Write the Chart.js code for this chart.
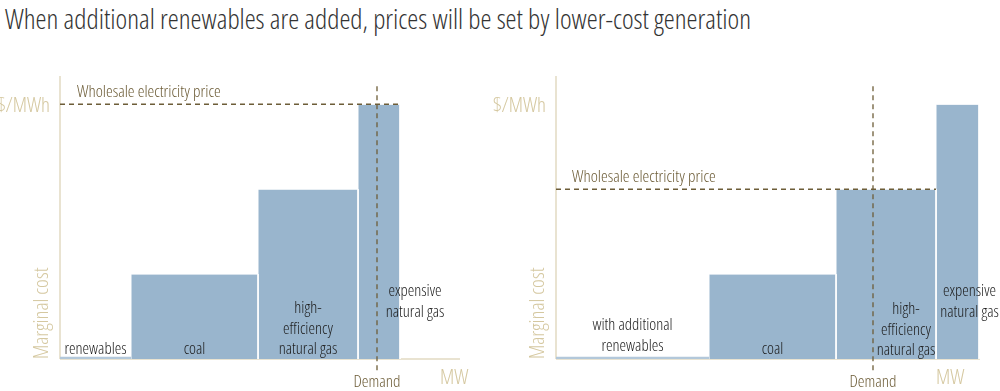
<!DOCTYPE html>
<html>
<head>
<meta charset="utf-8">
<script src="https://cdn.jsdelivr.net/npm/chart.js@4.4.1/dist/chart.umd.min.js"></script>
<style>
  body { margin: 0; background: #fff; width: 1000px; height: 391px; overflow: hidden; position: relative; }
  #titulo {
    position: absolute; left: 5px; top: 0px;
    font-family: "Open Sans", sans-serif; font-weight: 300; font-stretch: condensed;
    font-size: 27.8px; line-height: 36px; color: #333; white-space: nowrap;
  }
  .panel { position: absolute; top: 40px; height: 351px; }
</style>
</head>
<body>
<div id="titulo">When additional renewables are added, prices will be set by lower-cost generation</div>
<div class="panel" style="left:0;width:490px"><canvas id="izq"></canvas></div>
<div class="panel" style="left:490px;width:510px"><canvas id="der"></canvas></div>
<script>
// Datos (MW acumulados en el eje x, coste marginal en el eje y)
const fuentes = ['renewables', 'coal', 'high-efficiency natural gas', 'expensive natural gas'];
const etiquetasIzq = [['renewables'], ['coal'], ['high-', 'efficiency', 'natural gas'], ['expensive', 'natural gas']];
const etiquetasDer = [['with additional', 'renewables'], ['coal'], ['high-', 'efficiency', 'natural gas'], ['expensive', 'natural gas']];
const capacidadIzq = [71, 127, 100, 42];
const capacidadDer = [153, 127, 100, 43];
const costeMarginal = [0.8, 30, 60, 90];
const demanda = 317;
const precioIzq = 90;
const precioDer = 60;

const AZUL = '#99b5cd';
const AZUL_CLARO = '#b3c8da';
const BEIGE = '#e9e3d1';
const BEIGE_TEXTO = '#d5c8a0';
const OLIVA = '#6d5d38';

function fuente(size, weight) {
  return (weight || 300) + ' condensed ' + size + 'px "Open Sans"';
}

function construirDatasets(capacidad, xMax, precio) {
  var datasets = [];
  // ejes (detras de todo)
  datasets.push({ data: [{x: 0, y: 0}, {x: xMax, y: 0}], borderColor: BEIGE, borderWidth: 2, order: 10 });
  datasets.push({ data: [{x: 0, y: 0}, {x: 0, y: 100}], borderColor: BEIGE, borderWidth: 2, order: 10 });
  var inicio = 0;
  for (var i = 0; i < capacidad.length; i++) {
    var fin = inicio + capacidad[i];
    datasets.push({
      label: fuentes[i],
      data: [{x: inicio, y: 0}, {x: inicio, y: costeMarginal[i]}, {x: fin, y: costeMarginal[i]}, {x: fin, y: 0}],
      backgroundColor: i == 0 ? AZUL_CLARO : AZUL,
      borderColor: i == 0 ? AZUL_CLARO : '#ffffff',
      borderWidth: i == 0 ? 0 : 1,
      fill: 'origin',
      order: 5
    });
    inicio = fin;
  }
  // precio mayorista: hasta el final de la tecnologia que lo fija
  var finPrecio = 0;
  for (var i = 0; i < capacidad.length; i++) {
    finPrecio += capacidad[i];
    if (costeMarginal[i] >= precio) break;
  }
  datasets.push({ data: [{x: 0, y: precio}, {x: finPrecio, y: precio}], borderColor: OLIVA, borderWidth: 1.5, borderDash: [5, 4], order: 0 });
  datasets.push({ data: [{x: demanda, y: -4}, {x: demanda, y: 96.5}], borderColor: OLIVA, borderWidth: 1.3, borderDash: [5, 4], order: 0 });
  return datasets;
}

const textos = {
  id: 'textos',
  afterDatasetsDraw(chart, args, opts) {
    const ctx = chart.ctx;
    const xs = chart.scales.x, ys = chart.scales.y;
    ctx.save();
    ctx.textAlign = 'center';
    ctx.textBaseline = 'alphabetic';
    // etiquetas de las barras (la posicion vertical es relativa al panel)
    var inicio = 0;
    for (var i = 0; i < opts.capacidad.length; i++) {
      var fin = inicio + opts.capacidad[i];
      var lineas = opts.etiquetas[i];
      var cx = xs.getPixelForValue((inicio + fin) / 2) + (opts.desplaza[i] || 0);
      var base = opts.baseTexto[i] - 40;
      ctx.fillStyle = '#1c1c1c';
      ctx.font = fuente(16.5);
      for (var j = 0; j < lineas.length; j++) {
        ctx.fillText(lineas[j], cx, base + j * 20.5);
      }
      inicio = fin;
    }
    // precio mayorista
    ctx.textAlign = 'left';
    ctx.fillStyle = OLIVA;
    ctx.font = fuente(17);
    ctx.fillText('Wholesale electricity price', opts.precioX, ys.getPixelForValue(opts.precio) - 7);
    // $/MWh
    ctx.textAlign = 'right';
    ctx.fillStyle = BEIGE_TEXTO;
    ctx.font = fuente(21);
    ctx.fillText('$/MWh', xs.getPixelForValue(0) - 10, ys.getPixelForValue(90) + 8);
    // Marginal cost
    ctx.save();
    ctx.translate(xs.getPixelForValue(0) - 12, ys.getPixelForValue(0));
    ctx.rotate(-Math.PI / 2);
    ctx.textAlign = 'left';
    ctx.font = fuente(21);
    ctx.fillText('Marginal cost', 0, 0);
    ctx.restore();
    // MW
    ctx.textAlign = 'left';
    ctx.font = fuente(21);
    ctx.fillText('MW', opts.mwX, ys.getPixelForValue(0) + 25);
    // Demand
    ctx.textAlign = 'center';
    ctx.fillStyle = OLIVA;
    ctx.font = fuente(17);
    ctx.fillText('Demand', xs.getPixelForValue(demanda), ys.getPixelForValue(0) + 28);
    ctx.restore();
  }
};

function crearGrafico(canvas, capacidad, xMax, precio, opcionesTexto) {
  var ctx = canvas.getContext('2d');
  return new Chart(ctx, {
    type: 'line',
    data: { datasets: construirDatasets(capacidad, xMax, precio) },
    options: {
      responsive: true,
      maintainAspectRatio: false,
      animation: false,
      layout: { padding: opcionesTexto.padding },
      elements: { point: { radius: 0 }, line: { tension: 0 } },
      datasets: { line: { clip: false } },
      plugins: { legend: { display: false }, tooltip: { enabled: false }, textos: opcionesTexto },
      scales: {
        x: { type: 'linear', min: 0, max: xMax, display: false },
        y: { type: 'linear', min: 0, max: 100, display: false }
      }
    },
    plugins: [textos]
  });
}

crearGrafico(document.getElementById('izq'), capacidadIzq, 400, precioIzq, {
  padding: { left: 60, right: 30, top: 36, bottom: 32 },
  capacidad: capacidadIzq,
  etiquetas: etiquetasIzq,
  baseTexto: [354, 354, 313, 296],
  desplaza: [0, 0, 0, 36],
  precio: precioIzq,
  precioX: 77,
  mwX: 440
});

crearGrafico(document.getElementById('der'), capacidadDer, 424, precioDer, {
  padding: { left: 66, right: 20, top: 36, bottom: 32 },
  capacidad: capacidadDer,
  etiquetas: etiquetasDer,
  baseTexto: [330, 354, 314, 296],
  desplaza: [0, 0, 20, 12],
  precio: precioDer,
  precioX: 82,
  mwX: 446
});
</script>
</body>
</html>
